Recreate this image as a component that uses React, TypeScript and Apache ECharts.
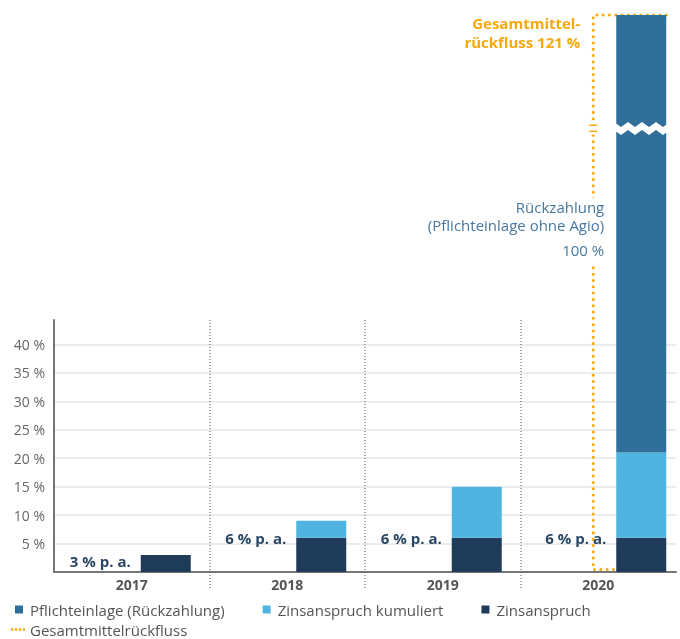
import React, { useEffect, useRef } from 'react';
import * as echarts from 'echarts';

// ---------- data ----------
const categories = ['2017', '2018', '2019', '2020'];
const zinsanspruch = [3, 6, 6, 6];
const zinsKumuliert = [0, 3, 9, 15];
const pflichteinlage = [0, 0, 0, 100];
const gesamtRueckfluss = [[3, 121]]; // [category index, total %]
const rateLabels = ['3 % p. a.', '6 % p. a.', '6 % p. a.', '6 % p. a.'];
const yTickStep = 5;
const yLabelMax = 40;
const yVisibleMax = 44.3;
const totalMax = 121;
const breakStart = 77.3;
const breakEnd = 101.8;
const breakGap = 1.43;
const finalIndex = 3; // the 2020 column, drawn on the broken axis
const separatorsBefore = categories.slice(1); // dotted dividers before these years

// ---------- style ----------
const FONT = '"Open Sans", "Noto Sans", sans-serif';
const C_STEEL = '#2f6f99';
const C_LIGHT = '#50b4e0';
const C_NAVY = '#1f3b5a';
const C_ORANGE = '#f6a90c';
const BAR_W = 50;
const BAR_GAP = [18, 36]; // per grid: early years, final year
const BAR_OFFSET_FINAL = (BAR_W + BAR_GAP[1]) / 2;
const LINE_INSET = 23; // dotted bracket distance left of the final bar

const GRID_LEFT = 54;
const GRID_RIGHT = 4;
const GRID_BOTTOM = 67;

const early = (arr: number[]) => arr.map((v, i) => (i !== finalIndex ? v : null));
const late = (arr: number[]) => arr.map((v, i) => (i === finalIndex ? v : null));

export default function App() {
  const ref = useRef<HTMLDivElement>(null);

  useEffect(() => {
    document.body.style.margin = '0';
    const chart = echarts.init(ref.current!, null, { renderer: 'svg' });

    const dotted = {
      stroke: C_ORANGE,
      lineWidth: 3,
      lineDash: [0.01, 6.3],
      lineCap: 'round',
      fill: null,
    };

    const rateLabel = {
      show: true,
      position: [-10, 0],
      align: 'right',
      verticalAlign: 'middle',
      color: '#2a4766',
      fontWeight: 'bold',
      fontSize: 15,
      fontFamily: FONT,
      formatter: (p: any) => rateLabels[p.dataIndex],
    };

    const barCommon = (axis: number) => ({
      type: 'bar',
      xAxisIndex: axis,
      yAxisIndex: axis,
      barWidth: BAR_W,
      barGap: `${(BAR_GAP[axis] / BAR_W) * 100}%`,
      z: 3,
    });

    const stackSeries = (axis: number, pick: (a: number[]) => any[]) => [
      {
        ...barCommon(axis),
        name: '_pad' + axis,
        data: categories.map(() => null),
        silent: true,
      },
      {
        ...barCommon(axis),
        name: 'Zinsanspruch',
        stack: 'total' + axis,
        itemStyle: { color: C_NAVY },
        data: pick(zinsanspruch).map((v) =>
          v !== null && v < 6
            ? { value: v, label: { position: 'left', distance: 10, offset: [0, -2] } }
            : v
        ),
        label: rateLabel,
      },
      {
        ...barCommon(axis),
        name: 'Zinsanspruch kumuliert',
        stack: 'total' + axis,
        itemStyle: { color: C_LIGHT },
        data: pick(zinsKumuliert),
      },
      {
        ...barCommon(axis),
        name: 'Pflichteinlage (Rückzahlung)',
        stack: 'total' + axis,
        itemStyle: { color: C_STEEL },
        data: pick(pflichteinlage).map((v) =>
          v !== null && v > 0
            ? {
                value: v,
                label: {
                  show: true,
                  position: 'left',
                  distance: 12,
                  offset: [0, -2],
                  align: 'right',
                  backgroundColor: '#fff',
                  formatter: `{a|Rückzahlung}\n{a|(Pflichteinlage ohne Agio)}\n{b|${v} %}`,
                  rich: {
                    a: { color: '#4677a1', fontSize: 15, lineHeight: 18, fontFamily: FONT, align: 'right' },
                    b: { color: '#4677a1', fontSize: 15, lineHeight: 32, fontFamily: FONT, align: 'right' },
                  },
                },
              }
            : v
        ),
      },
    ];

    const bracketX = (api: any, cat: number) =>
      api.coord([cat, 0])[0] + BAR_OFFSET_FINAL - BAR_W / 2 - LINE_INSET;

    const option: any = {
      animation: false,
      textStyle: { fontFamily: FONT },
      grid: [
        { left: GRID_LEFT, right: GRID_RIGHT, top: 320, bottom: GRID_BOTTOM },
        { left: GRID_LEFT, right: GRID_RIGHT, top: 15, bottom: GRID_BOTTOM },
      ],
      xAxis: [
        {
          type: 'category',
          gridIndex: 0,
          data: categories,
          axisLine: { lineStyle: { color: '#777', width: 2 } },
          axisTick: { show: false },
          splitLine: { show: false },
          axisLabel: {
            color: '#555',
            fontWeight: 'bold',
            fontSize: 14,
            fontFamily: FONT,
            margin: 5,
          },
        },
        {
          type: 'category',
          gridIndex: 1,
          data: categories,
          show: false,
        },
      ],
      yAxis: [
        {
          type: 'value',
          gridIndex: 0,
          min: 0,
          max: yVisibleMax,
          interval: yTickStep,
          axisLine: { show: true, lineStyle: { color: '#777', width: 2 } },
          axisTick: { show: false },
          splitLine: {
            show: true,
            showMinLine: false,
            showMaxLine: false,
            lineStyle: { color: '#ececec', width: 2 },
          },
          axisLabel: {
            showMaxLabel: false,
            color: '#666',
            fontSize: 14,
            fontFamily: FONT,
            margin: 9,
            formatter: (v: number) => (v > 0 && v <= yLabelMax ? `${v} %` : ''),
          },
        },
        {
          type: 'value',
          gridIndex: 1,
          min: 0,
          max: totalMax,
          axisLine: { show: false },
          axisTick: { show: false },
          splitLine: { show: false },
          axisLabel: { show: false },
          breaks: [{ start: breakStart, end: breakEnd, gap: breakGap }],
          breakArea: {
            show: true,
            expandOnClick: false,
            zigzagAmplitude: 2.5,
            zigzagMinSpan: 7,
            zigzagMaxSpan: 7,
            zigzagZ: 100,
            itemStyle: { color: '#fff', borderColor: '#fff', borderWidth: 0, opacity: 1 },
          },
        },
      ],
      legend: [
        {
          left: 10,
          top: 597,
          itemWidth: 8,
          itemHeight: 8,
          itemGap: 38,
          icon: 'rect',
          textStyle: { color: '#555', fontSize: 15, fontFamily: FONT, padding: [0, 0, 0, 2] },
          data: ['Pflichteinlage (Rückzahlung)', 'Zinsanspruch kumuliert', 'Zinsanspruch'],
          selectedMode: false,
        },
        {
          left: 6,
          top: 617,
          itemWidth: 14,
          itemHeight: 3,
          textStyle: { color: '#555', fontSize: 15, fontFamily: FONT },
          data: [
            {
              name: 'Gesamtmittelrückfluss',
              icon: 'path://M0,0h2.6v2.6h-2.6zM4.4,0h2.6v2.6h-2.6zM8.8,0h2.6v2.6h-2.6zM13.2,0h2.6v2.6h-2.6z',
            },
          ],
          selectedMode: false,
        },
      ],
      series: [
        ...stackSeries(0, early),
        ...stackSeries(1, late),
        {
          name: '_separators',
          type: 'custom',
          xAxisIndex: 0,
          yAxisIndex: 0,
          z: 1,
          silent: true,
          data: separatorsBefore,
          encode: { x: 0 },
          renderItem: (params: any, api: any) => {
            const idx = categories.indexOf(separatorsBefore[params.dataIndex]);
            const band = api.size([1, 0])[0];
            const x = Math.round(api.coord([idx, 0])[0] - band / 2);
            const yTop = api.coord([idx, yVisibleMax])[1];
            const yBase = api.coord([idx, 0])[1];
            return {
              type: 'line',
              shape: { x1: x, y1: yTop, x2: x, y2: yBase + 17 },
              style: { stroke: '#555', lineWidth: 1, lineDash: [1, 2] },
            };
          },
        },
        {
          name: 'Gesamtmittelrückfluss',
          type: 'custom',
          xAxisIndex: 1,
          yAxisIndex: 1,
          z: 1,
          itemStyle: { color: C_ORANGE },
          encode: { x: 0, y: 1 },
          data: gesamtRueckfluss,
          renderItem: (params: any, api: any) => {
            const cat = api.value(0);
            const total = api.value(1);
            const top = api.coord([cat, total]);
            const base = api.coord([cat, 0]);
            const yLow = api.coord([cat, breakStart])[1];
            const yHigh = api.coord([cat, breakEnd])[1];
            const lx = bracketX(api, cat);
            const barRight = lx + LINE_INSET + BAR_W;
            return {
              type: 'group',
              children: [
                {
                  type: 'polyline',
                  shape: { points: [[barRight, top[1]], [lx, top[1]], [lx, yHigh - 3]] },
                  style: dotted,
                },
                {
                  type: 'polyline',
                  shape: { points: [[lx, yLow + 3], [lx, base[1] - 2.5], [barRight, base[1] - 2.5]] },
                  style: dotted,
                },
                {
                  type: 'text',
                  x: lx - 13,
                  y: top[1] - 1.5,
                  style: {
                    text: `Gesamtmittel-\nrückfluss ${total} %`,
                    fill: C_ORANGE,
                    font: `bold 15px ${FONT}`,
                    lineHeight: 19,
                    align: 'right',
                    verticalAlign: 'top',
                  },
                },
              ],
            };
          },
        },
        {
          name: '_breakMarks',
          type: 'custom',
          xAxisIndex: 1,
          yAxisIndex: 1,
          zlevel: 1,
          z: 20,
          silent: true,
          encode: { x: 0, y: 1 },
          data: gesamtRueckfluss,
          renderItem: (params: any, api: any) => {
            const cat = api.value(0);
            const yLow = api.coord([cat, breakStart])[1];
            const yHigh = api.coord([cat, breakEnd])[1];
            const lx = bracketX(api, cat);
            return {
              type: 'group',
              children: [
                {
                  type: 'line',
                  shape: { x1: lx - 4, y1: yHigh + 1, x2: lx + 4, y2: yHigh + 1 },
                  style: { stroke: C_ORANGE, lineWidth: 1.5 },
                },
                {
                  type: 'line',
                  shape: { x1: lx - 4, y1: yLow - 1, x2: lx + 4, y2: yLow - 1 },
                  style: { stroke: C_ORANGE, lineWidth: 1.5 },
                },
              ],
            };
          },
        },
      ],
    };

    chart.setOption(option);
    return () => chart.dispose();
  }, []);

  return (
    <div
      ref={ref}
      style={{ position: 'fixed', left: 0, top: 0, width: 680, height: 639 }}
    />
  );
}
